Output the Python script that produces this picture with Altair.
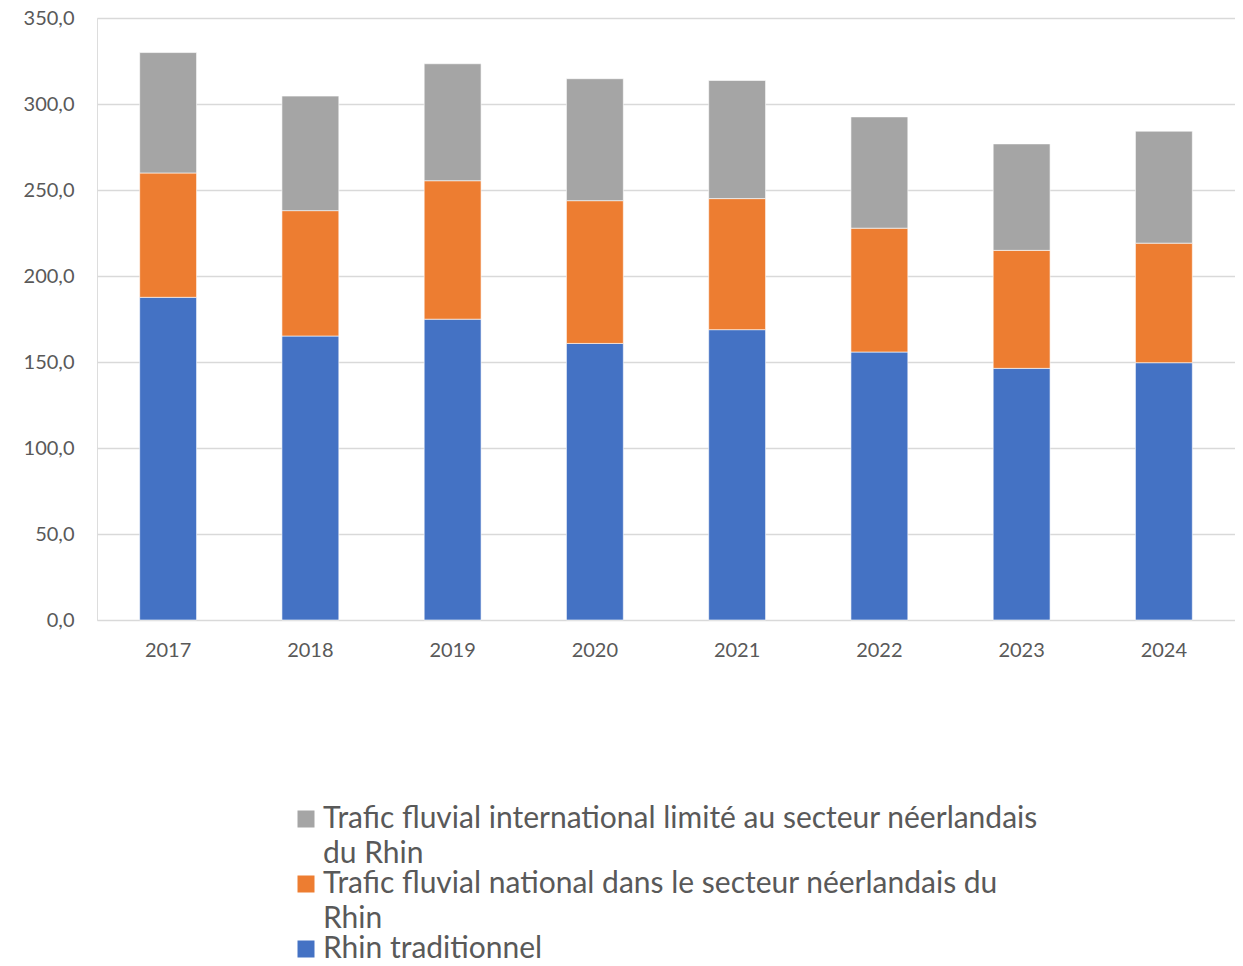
import altair as alt
import pandas as pd

years = ["2017", "2018", "2019", "2020", "2021", "2022", "2023", "2024"]
rhin_traditionnel = [187.6, 165.1, 174.9, 160.8, 168.8, 155.8, 146.3, 149.6]
trafic_national = [72.3, 72.9, 80.5, 83.0, 76.2, 72.0, 68.6, 69.5]
trafic_international = [70.0, 66.6, 68.0, 70.9, 68.7, 64.7, 61.9, 65.1]

s_int = "Trafic fluvial international limité au secteur néerlandais du Rhin"
s_nat = "Trafic fluvial national dans le secteur néerlandais du Rhin"
s_rhin = "Rhin traditionnel"

rows = []
for i, y in enumerate(years):
    rows.append({"year": y, "series": s_rhin, "value": rhin_traditionnel[i], "ord": 0})
    rows.append({"year": y, "series": s_nat, "value": trafic_national[i], "ord": 1})
    rows.append({"year": y, "series": s_int, "value": trafic_international[i], "ord": 2})
df = pd.DataFrame(rows)

label_expr = (
    "datum.label == '" + s_int + "' ? ['Trafic fluvial international limité au secteur néerlandais', 'du Rhin'] : "
    "datum.label == '" + s_nat + "' ? ['Trafic fluvial national dans le secteur néerlandais du', 'Rhin'] : datum.label"
)

FONT = "Lato"
TXT = "#595959"

chart = alt.Chart(df).mark_bar(stroke="white", strokeWidth=0.6).encode(
    x=alt.X("year:N", title=None, sort=years,
            scale=alt.Scale(paddingInner=0.6, paddingOuter=0.3),
            axis=alt.Axis(labelAngle=0, labelFontSize=20, labelColor=TXT, labelFont=FONT,
                          ticks=False, domain=False, grid=False, labelPadding=20)),
    y=alt.Y("value:Q", stack="zero", title=None,
            scale=alt.Scale(domain=[0, 350], nice=False),
            axis=alt.Axis(values=[0, 50, 100, 150, 200, 250, 300, 350],
                          labelExpr="replace(format(datum.value, '.1f'), '.', ',')",
                          labelFontSize=20, labelColor=TXT, labelFont=FONT,
                          ticks=False, domain=False, labelPadding=23,
                          gridColor="#D9D9D9", gridWidth=1.5)),
    color=alt.Color("series:N",
                    scale=alt.Scale(domain=[s_int, s_nat, s_rhin],
                                    range=["#A5A5A5", "#ED7D31", "#4472C4"]),
                    legend=alt.Legend(title=None, orient="none", legendX=194, legendY=786,
                                      padding=0, direction="vertical", symbolType="square",
                                      symbolSize=289, symbolStrokeWidth=0,
                                      labelFontSize=30, labelFont=FONT, labelColor=TXT,
                                      labelLimit=2000, labelExpr=label_expr,
                                      rowPadding=-1, labelOffset=2)),
    order=alt.Order("ord:Q", sort="ascending"),
).properties(
    width=1138, height=602,
    padding={"left": 89, "top": 10, "right": 0, "bottom": 338},
    autosize=alt.AutoSizeParams(type="none"),
).configure_view(stroke=None).configure(
    background="white",
    style={"guide-label": {"lineHeight": 35}},
)

chart.save("out.html", embed_options={"renderer": "svg", "actions": False})
